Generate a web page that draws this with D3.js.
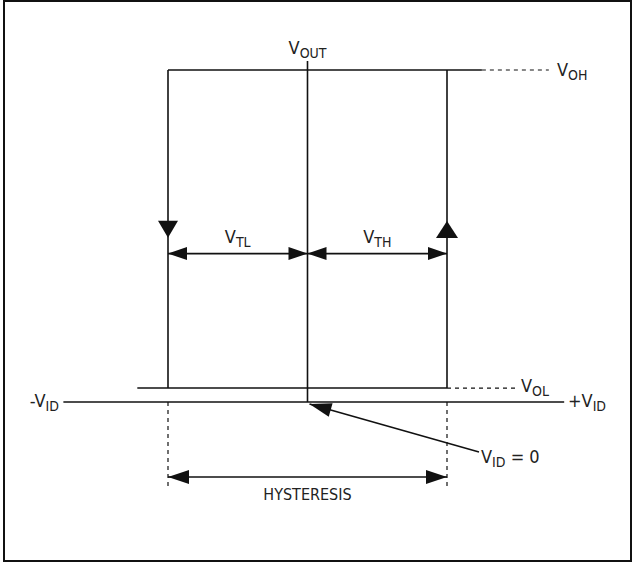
<!DOCTYPE html>
<html>
<head>
<meta charset="utf-8">
<script src="https://cdn.jsdelivr.net/npm/d3@7"></script>
<style>
  body { margin: 0; background: #fff; }
  text { font-family: "Liberation Sans Narrow", "DejaVu Sans Condensed", "Roboto", sans-serif; fill: #222; }
</style>
</head>
<body>
<script>
// input voltage (normalised): -VTL ... 0 ... +VTH
const thresholds = [-1, 0, 1];            // VTL, VID = 0, VTH
const inputRange = [-1.75, 1.84];         // -VID ... +VID axis extent
const outputLevels = [0.042, 1];          // VOL, VOH (VID axis at 0)
const levelLabels = ['OL', 'OH'];

const width = 632, height = 563;

const x = d3.scaleLinear().domain([-1, 1]).range([168, 447]);
const y = d3.scaleLinear().domain([0, 1]).range([402, 70]);

const svg = d3.select('body').append('svg')
  .attr('width', width)
  .attr('height', height);

svg.append('rect')
  .attr('x', 4).attr('y', 1)
  .attr('width', 627).attr('height', 560)
  .attr('fill', 'none')
  .attr('stroke', '#111')
  .attr('stroke-width', 2);

const g = svg.append('g')
  .attr('stroke', '#111')
  .attr('fill', 'none')
  .attr('stroke-width', 1.6);

function line (x1, y1, x2, y2, dash) {
  return g.append('line')
    .attr('x1', x1).attr('y1', y1)
    .attr('x2', x2).attr('y2', y2)
    .attr('stroke-dasharray', dash || null);
}

// triangle head with tip at (tx, ty) pointing along angle a
function head (tx, ty, a, len, half) {
  const c = Math.cos(a), s = Math.sin(a);
  const bx = tx - c * len, by = ty - s * len;
  const pts = [[tx, ty], [bx - s * half, by + c * half], [bx + s * half, by - c * half]];
  svg.append('path')
    .attr('d', d3.line()(pts) + 'Z')
    .attr('fill', '#111');
}

const xl = x(thresholds[0]), x0 = x(thresholds[1]), xh = x(thresholds[2]);
const yl = y(outputLevels[0]), yh = y(outputLevels[1]), yAxis = y(0);

// hysteresis loop
line(xl, yh, x(1.25), yh);
line(x(1.25), yh, x(1.73), yh, '4,4').attr('stroke-width', 1.2);
line(x(-1.22), yl, xh, yl);
line(xh, yl, x(1.5), yl, '4,4').attr('stroke-width', 1.2);
line(xl, yh, xl, yl);
line(xh, yh, xh, yl);

// axes
line(x(inputRange[0]), yAxis, x(inputRange[1]), yAxis);
line(x0, 61, x0, yAxis);

// direction arrows on loop
head(xl, y(0.495), Math.PI / 2, 17, 10);
head(xh, y(0.545), -Math.PI / 2, 17, 11);

// threshold dimensions
const yDim = y(0.447);
line(xl, yDim, x0, yDim);
line(x0, yDim, xh, yDim);
head(xl, yDim, Math.PI, 19, 6.5);
head(x0, yDim, 0, 19, 6.5);
head(x0, yDim, Math.PI, 19, 6.5);
head(xh, yDim, 0, 19, 6.5);

// hysteresis band
line(xl, yAxis, xl, 490, '4,4').attr('stroke-width', 1.2);
line(xh, yAxis, xh, 490, '4,4').attr('stroke-width', 1.2);
const yHys = 477;
line(xl, yHys, xh, yHys);
head(xl, yHys, Math.PI, 21, 7);
head(xh, yHys, 0, 21, 7);

// VID = 0 pointer
const px = 479, py = 452;
line(px, py, x0 + 2, yAxis + 2);
head(x0 + 2, yAxis + 2, Math.atan2(yAxis + 2 - py, x0 + 2 - px), 22, 7);

// labels: main V + subscript
function vlabel (tx, ty, anchor, pre, sub, post) {
  const t = svg.append('text')
    .attr('x', tx).attr('y', ty)
    .attr('text-anchor', anchor)
    .style('font-size', '18px');
  t.append('tspan').text(pre + 'V');
  t.append('tspan').attr('dy', 4).style('font-size', '14px').text(sub);
  if (post) t.append('tspan').attr('dy', -4).text(post);
  return t;
}

vlabel(x0, 54, 'middle', '', 'OUT');
vlabel(557, yh + 6, 'start', '', levelLabels[1]);
vlabel(521, yl + 4, 'start', '', levelLabels[0]);
vlabel(59, yAxis + 5, 'end', '-', 'ID');
vlabel(568, yAxis + 5, 'start', '+', 'ID');
vlabel((xl + x0) / 2, 243, 'middle', '', 'TL');
vlabel((x0 + xh) / 2, 243, 'middle', '', 'TH');
vlabel(481, 463, 'start', '', 'ID', ' = 0');

svg.append('text')
  .attr('x', x0).attr('y', 500)
  .attr('text-anchor', 'middle')
  .style('font-size', '16px')
  .text('HYSTERESIS');
</script>
</body>
</html>
